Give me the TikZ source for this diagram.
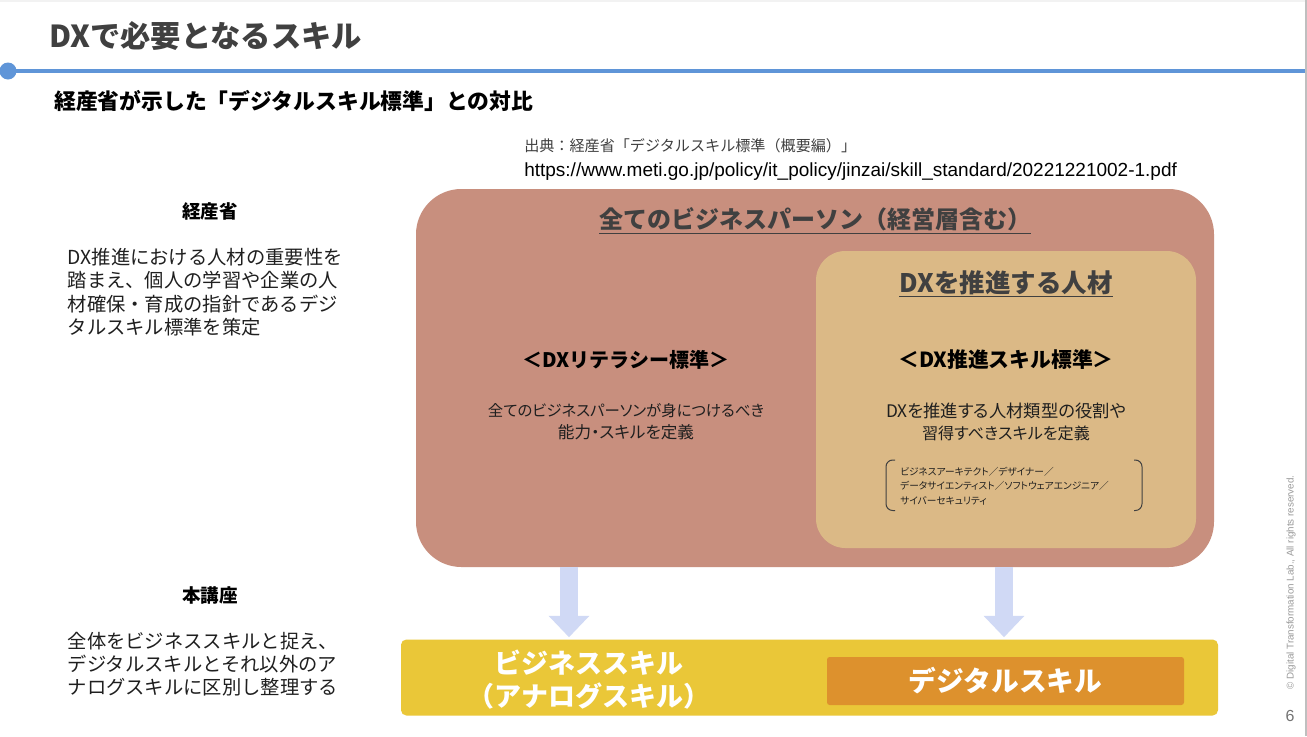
\documentclass[tikz,border=0pt]{standalone}
\usepackage{fontspec}
\setmainfont{Liberation Sans}
\newfontfamily\jp[Script=CJK]{Noto Sans CJK JP}
\newfontfamily\jpp[Script=CJK,RawFeature=+palt]{Noto Sans CJK JP}
\usetikzlibrary{arrows.meta}
\newcommand{\pxfont}[2]{\fontsize{\dimexpr#1pt*3/4\relax}{\dimexpr#2pt*3/4\relax}\selectfont}

% Colors
\definecolor{linecolor}{HTML}{5F95D8}
\definecolor{titlecolor}{HTML}{404040}
\definecolor{outercolor}{HTML}{C88F7E}
\definecolor{innercolor}{HTML}{DBB986}
\definecolor{barcolor}{HTML}{EAC738}
\definecolor{digicolor}{HTML}{DD912D}
\definecolor{arrowcolor}{HTML}{D0D9F5}
\definecolor{bodycolor}{HTML}{1F1F1F}

% Styles
\tikzset{
    panel/.style={inner sep=0pt,minimum width=#1*0.75pt},
    label/.style={inner sep=0pt,font=\jp\pxfont{#1}{#1},text=bodycolor,align=center},
    boldlabel/.style={inner sep=0pt,font=\jp\bfseries\pxfont{#1}{#1},align=center},
    leftnote/.style={inner sep=0pt,anchor=north west,align=left,text=bodycolor,
        font=\jp\pxfont{19.3}{23.3}},
    bodytext/.style={inner sep=0pt,align=center,text=bodycolor,font=\jpp\pxfont{16.6}{22}},
    skillarrow/.style={draw=arrowcolor,line width=13.5pt,shorten >=1.5pt,
        -{Triangle[width=29.5pt,length=16pt]}},
}

\begin{document}
\begin{tikzpicture}[x=0.75pt,y=-0.75pt]
  \useasboundingbox (0,0) rectangle (1307,736);
  \fill[white] (0,0) rectangle (1307,736);
  \fill[black!5] (0,0) rectangle (1307,2);
  \fill[black!25] (1305,0) rectangle (1307,736);

  % Header
    \node[boldlabel=30.3,text=titlecolor,anchor=west] (title) at (49,36) {DXで必要となるスキル};
    \draw[linecolor,line width=2.8pt] (8,71) coordinate (rulestart) -- (1305,71) coordinate (ruleend);
    \fill[linecolor] (rulestart) circle [radius=8.5];
    \node[boldlabel=21.8,text=black,anchor=west] (subtitle) at (54,101)
      {経産省が示した「デジタルスキル標準」との対比};

  % Source
    \node[label=15.1,text=titlecolor,anchor=west] (source) at (524,146) {出典：経産省「デジタルスキル標準（概要編）」};
    \node[inner sep=0pt,anchor=west,text=black,font=\pxfont{19}{19}] (url) at (524,171.5)
      {https://www.meti.go.jp/policy/it\_policy/jinzai/skill\_standard/20221221002-1.pdf};

  % Left column
    \node[boldlabel=18.5,text=black] (meti) at (210,211) {経産省};
    \node[leftnote] (metinote) at (67.5,248)
      {DX推進における人材の重要性を\\踏まえ、個人の学習や企業の人\\材確保・育成の指針であるデジ\\タルスキル標準を策定};
    \node[boldlabel=18.5,text=black] (course) at (210,595) {本講座};
    \node[leftnote] (coursenote) at (67.5,631.5)
      {全体をビジネススキルと捉え、\\デジタルスキルとそれ以外のア\\ナログスキルに区別し整理する};

  % Panels
    \node[panel=798,minimum height=378*0.75pt,fill=outercolor,rounded corners=34pt] (outer) at (815,378) {};
    \node[panel=380,minimum height=297*0.75pt,fill=innercolor,rounded corners=22pt] (inner) at (1006,399.5) {};
    \node[panel=817,minimum height=76*0.75pt,fill=barcolor,rounded corners=4pt] (bar) at (809.5,677.5) {};
    \node[panel=357,minimum height=48*0.75pt,fill=digicolor,rounded corners=2pt] (digital) at (1005.5,681) {};

    \node[boldlabel=24,text=titlecolor] (outertitle) at (815,221) {\underline{全てのビジネスパーソン（経営層含む）}};
    \node[boldlabel=25.5,text=titlecolor] (innertitle) at (1006,284) {\underline{DXを推進する人材}};

    \node[boldlabel=20,text=black] (literacy) at (626,360) {＜DXリテラシー標準＞};
    \node[boldlabel=20.8,text=black] (promote) at (1006,360) {＜DX推進スキル標準＞};

    \node[bodytext] (literacytext) at (626,422)
      {{\pxfont{15.4}{22}全てのビジネスパーソンが身につけるべき}\\能力・スキルを定義};
    \node[bodytext] (promotetext) at (1006,422)
      {{\pxfont{17.3}{22}DXを推進する人材類型の役割や}\\{\pxfont{16.1}{22}習得すべきスキルを定義}};

    \node[inner sep=0pt,anchor=west,align=left,text=bodycolor,font=\jpp\pxfont{9.7}{14.5}] (roles) at (900,486)
      {ビジネスアーキテクト／デザイナー／\\データサイエンティスト／ソフトウェアエンジニア／\\サイバーセキュリティ};
    \coordinate (roleslt) at (895,460);
    \coordinate (rolesrt) at (1134,460);
    \coordinate (roleslb) at (895,510.5);
    \coordinate (rolesrb) at (1134,510.5);
    \draw[titlecolor,line width=0.75pt,rounded corners=5pt] (roleslt) -- (886,460) -- (886,510.5) -- (roleslb);
    \draw[titlecolor,line width=0.75pt,rounded corners=5pt] (rolesrt) -- (1142,460) -- (1142,510.5) -- (rolesrb);

  % Bar labels
    \node[boldlabel=27,text=white,font=\jp\bfseries\pxfont{27}{33}] (business) at (589,680) {ビジネススキル\\（アナログスキル）};
    \node[boldlabel=27.7,text=white] (digitallabel) at (digital) {デジタルスキル};

  % Arrows
    \coordinate (leftdrop) at (569,600);
    \coordinate (rightdrop) at (1004,600);
    \draw[skillarrow] (outer.south -| leftdrop) -- (bar.north -| leftdrop);
    \draw[skillarrow] (outer.south -| rightdrop) -- (bar.north -| rightdrop);

  % Footer
    \node[inner sep=0pt,rotate=90,text=black!40,font=\pxfont{9.8}{9.8}] (rights) at (1291,582.5)
      {© Digital Transformation Lab., All rights reserved.};
    \node[inner sep=0pt,text=black!55,font=\pxfont{16}{16}] (pageno) at (1290,716) {6};
\end{tikzpicture}
\end{document}
